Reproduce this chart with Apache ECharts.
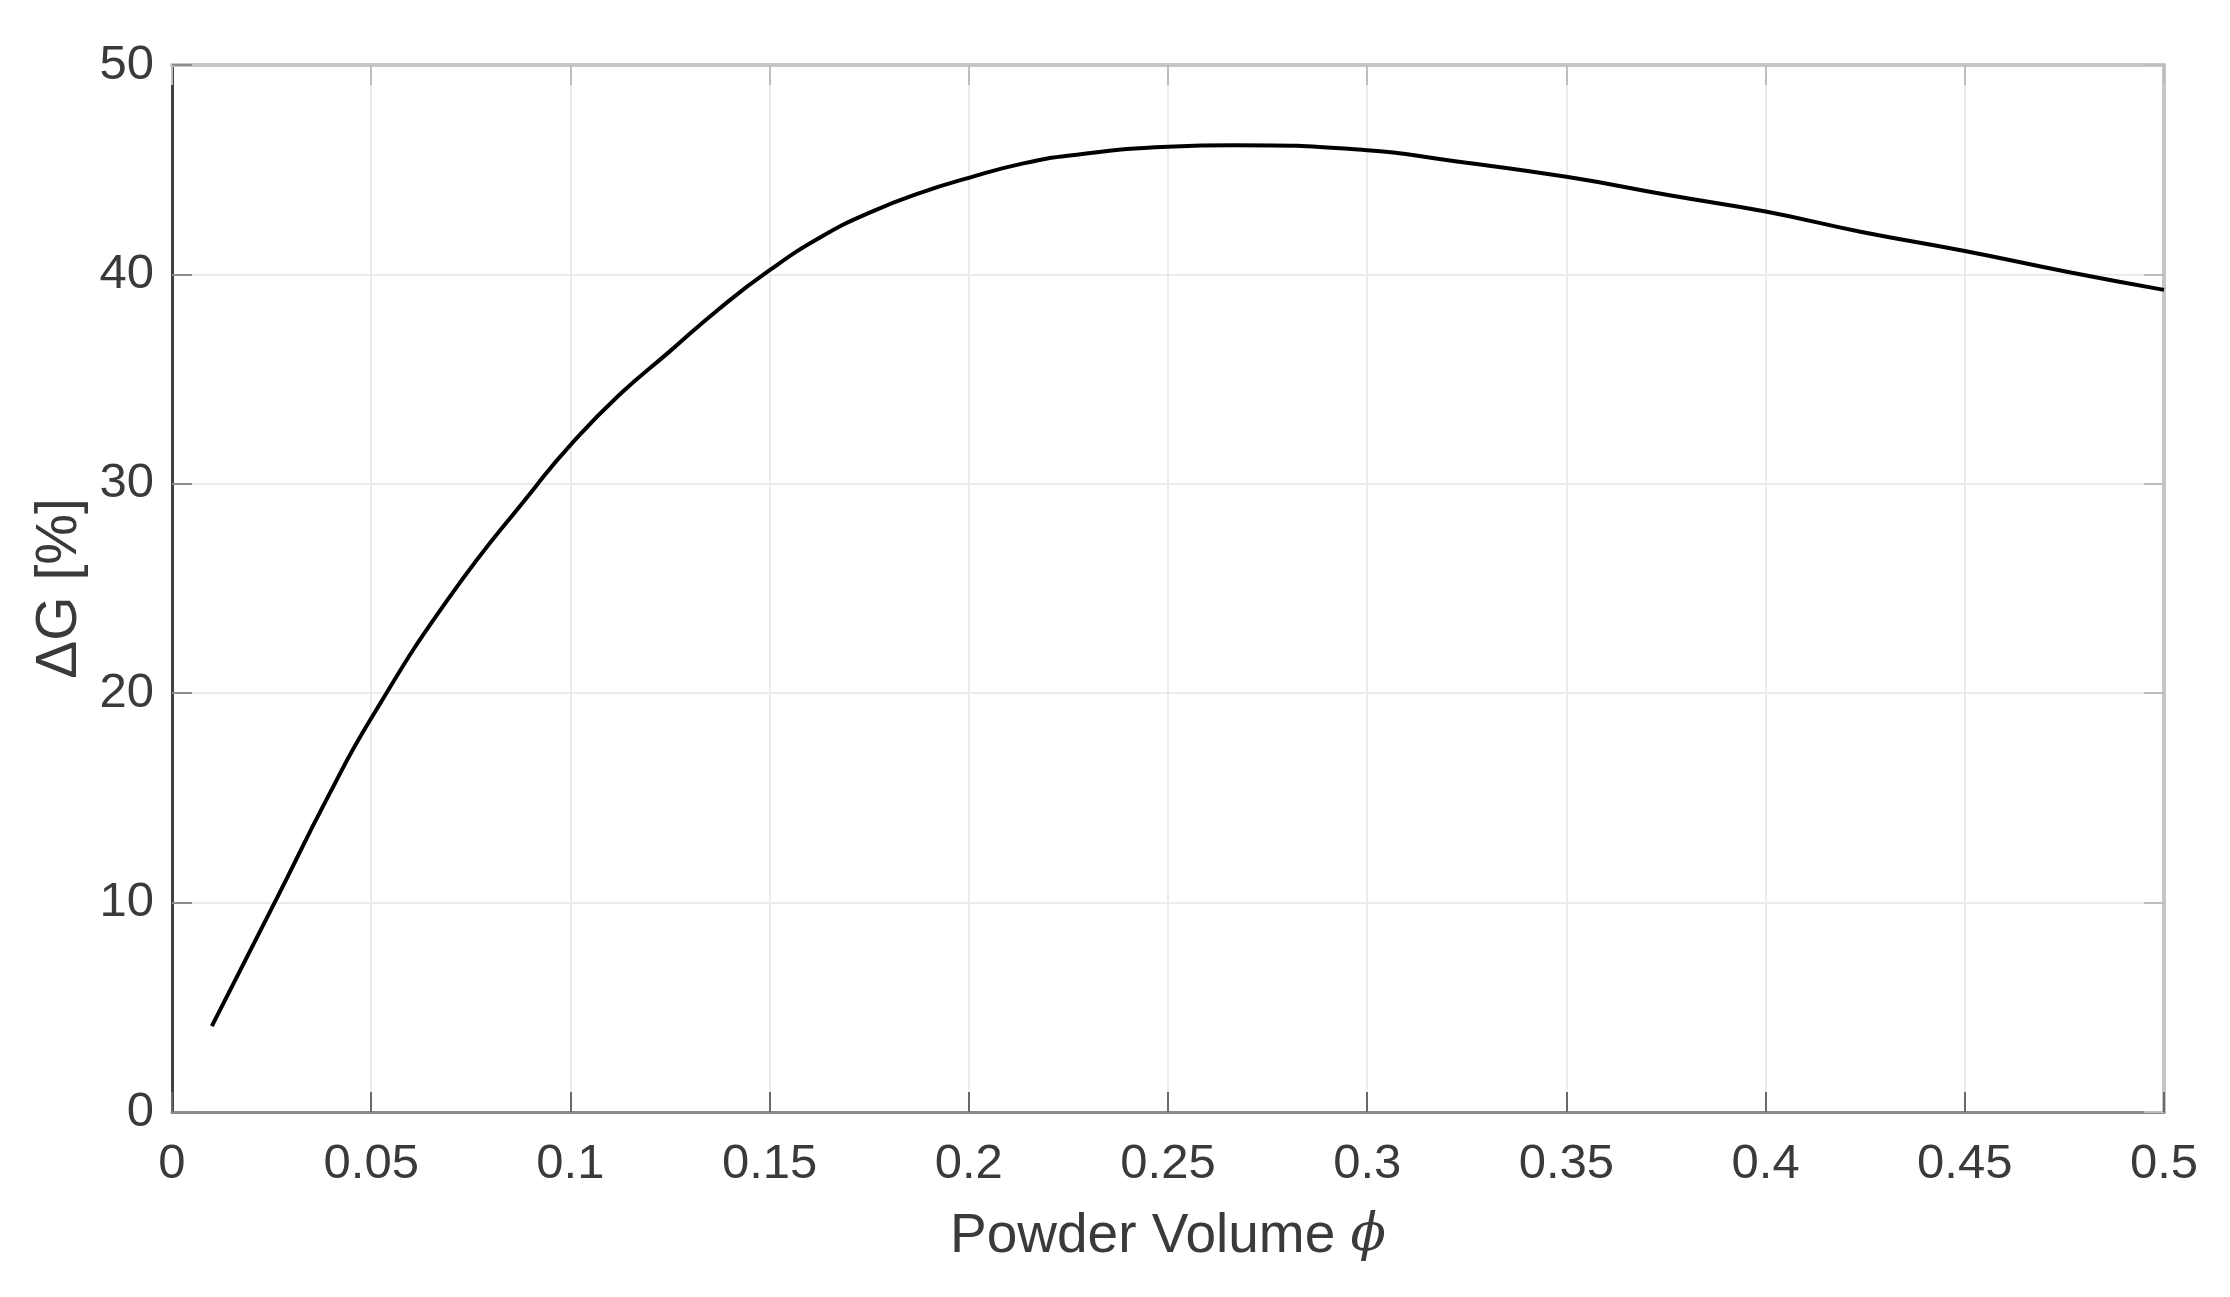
<!DOCTYPE html>
<html>
<head>
<meta charset="utf-8">
<script src="https://cdn.jsdelivr.net/npm/echarts@6/dist/echarts.min.js"></script>
<style>
html, body { margin: 0; padding: 0; background: #fff; }
#chart { width: 2230px; height: 1297px; }
</style>
</head>
<body>
<div id="chart"></div>
<script>
// powder volume fraction and gain change
var phi = [0.01, 0.0263, 0.039, 0.05, 0.0697, 0.0914, 0.1, 0.1123, 0.1248, 0.1373, 0.15, 0.1632,
           0.1757, 0.1882, 0.2, 0.2134, 0.2259, 0.25, 0.2666, 0.3, 0.3203, 0.35, 0.3755, 0.4,
           0.4238, 0.45, 0.4756, 0.5];
var dG = [4.1, 10.2, 15.0, 18.8, 24.6, 29.9, 31.85, 34.25, 36.3, 38.35, 40.2, 41.82,
          43.0, 43.92, 44.61, 45.29, 45.69, 46.1, 46.17, 45.93, 45.45, 44.66, 43.79, 43.0,
          42.04, 41.12, 40.13, 39.26];

var xMin = 0, xMax = 0.5, xStep = 0.05;
var yMin = 0, yMax = 50, yStep = 10;

var font = "'Liberation Sans', Arial, sans-serif";
var textColor = '#3a3a3a';

var chart = echarts.init(document.getElementById('chart'));
chart.setOption({
    animation: false,
    backgroundColor: '#fff',
    grid: { left: 172, right: 66, top: 65, bottom: 185, containLabel: false },
    xAxis: [{
        type: 'value',
        min: xMin, max: xMax, interval: xStep,
        position: 'bottom',
        name: 'Powder Volume {i|ϕ}',
        nameLocation: 'middle',
        nameGap: 97,
        nameTextStyle: {
            fontFamily: font, fontSize: 55, color: textColor,
            rich: { i: { fontFamily: "'DejaVu Serif', serif", fontStyle: 'italic', fontSize: 52, color: textColor } }
        },
        axisLine: { show: true, onZero: false, lineStyle: { color: '#8a8a8a', width: 3 } },
        axisTick: { show: true, inside: true, length: 20, lineStyle: { color: '#6a6a6a', width: 2 } },
        axisLabel: { margin: 28, fontFamily: font, fontSize: 49, color: textColor },
        splitLine: { show: true, lineStyle: { color: '#ebebeb', width: 2 } }
    }, {
        type: 'value',
        min: xMin, max: xMax, interval: xStep,
        position: 'top',
        axisLine: { show: true, onZero: false, lineStyle: { color: '#c6c6c6', width: 4 } },
        axisTick: { show: true, inside: true, length: 20, lineStyle: { color: '#bdbdbd', width: 2 } },
        axisLabel: { show: false },
        splitLine: { show: false }
    }],
    yAxis: [{
        type: 'value',
        min: yMin, max: yMax, interval: yStep,
        position: 'left',
        name: 'ΔG [%]',
        nameLocation: 'middle',
        nameRotate: 90,
        nameGap: 78,
        nameTextStyle: { fontFamily: font, fontSize: 57, color: textColor },
        axisLine: { show: true, onZero: false, lineStyle: { color: '#404040', width: 3 } },
        axisTick: { show: true, inside: true, length: 20, lineStyle: { color: '#8c8c8c', width: 2 } },
        axisLabel: { margin: 18, fontFamily: font, fontSize: 49, color: textColor },
        splitLine: { show: true, lineStyle: { color: '#ebebeb', width: 2 } }
    }, {
        type: 'value',
        min: yMin, max: yMax, interval: yStep,
        position: 'right',
        axisLine: { show: true, onZero: false, lineStyle: { color: '#c6c6c6', width: 4 } },
        axisTick: { show: true, inside: true, length: 20, lineStyle: { color: '#bdbdbd', width: 2 } },
        axisLabel: { show: false },
        splitLine: { show: false }
    }],
    series: [{
        type: 'line',
        xAxisIndex: 0,
        yAxisIndex: 0,
        data: phi.map(function (p, i) { return [p, dG[i]]; }),
        smooth: 0.5,
        showSymbol: false,
        symbol: 'none',
        lineStyle: { color: '#000', width: 4 },
        z: 5
    }]
});
</script>
</body>
</html>
